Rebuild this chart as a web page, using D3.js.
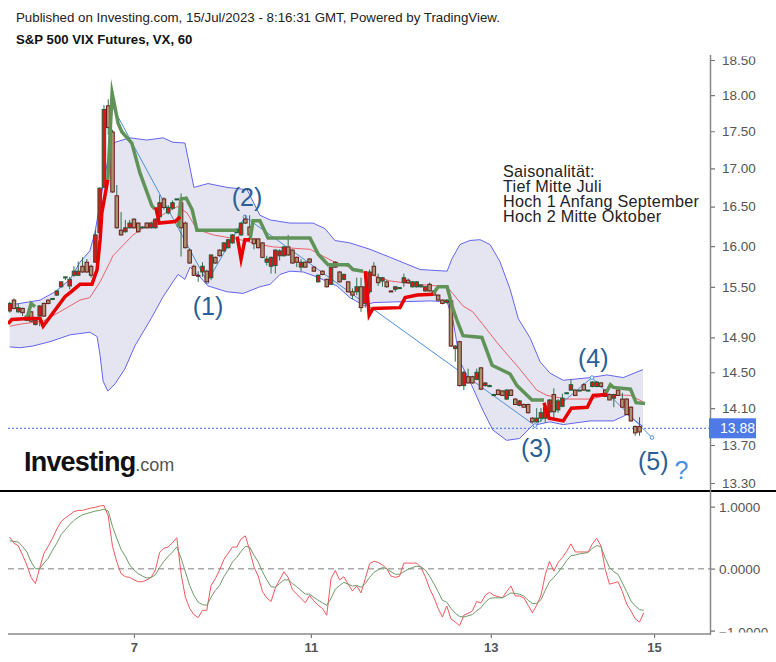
<!DOCTYPE html>
<html>
<head>
<meta charset="utf-8">
<script src="https://cdn.jsdelivr.net/npm/d3@7"></script>
<style>
  html, body { margin: 0; padding: 0; background: #fff; }
  svg { display: block; font-family: "Liberation Sans", Arial, sans-serif; }
</style>
</head>
<body>
<svg id="chart" width="776" height="662"></svg>
<script>
// candles, one entry per 60 min bar
const opens = [15.21,15.34,15.20,15.24,15.10,15.20,15.05,15.15,15.30,15.34,15.35,15.40,15.50,15.61,15.51,15.64,15.64,15.75,15.80,15.75,
  15.80,16.17,16.75,17.85,17.49,16.64,16.20,16.18,16.23,16.34,16.29,16.24,16.29,16.23,16.23,16.37,16.60,16.42,16.48,16.60,
  16.55,16.29,15.95,15.75,15.64,15.68,15.69,15.61,15.86,15.95,15.94,15.98,16.04,16.17,16.14,16.34,16.24,16.09,16.09,16.04,
  15.80,15.75,15.76,15.88,15.88,15.99,15.95,15.86,15.74,15.80,15.84,15.74,15.56,15.69,15.59,15.53,15.80,15.68,15.59,15.56,
  15.44,15.44,15.50,15.30,15.44,15.75,15.61,15.57,15.56,15.45,15.47,15.48,15.55,15.58,15.50,15.50,15.50,15.45,15.53,15.40,
  15.40,15.34,15.31,15.33,14.77,14.85,14.35,14.45,14.45,14.42,14.55,14.35,14.35,14.25,14.30,14.29,14.20,14.30,14.20,14.13,
  14.14,14.14,13.99,13.95,13.99,13.99,14.06,14.25,14.08,14.12,14.27,14.30,14.30,14.30,14.36,14.30,14.34,14.34,14.38,14.30,
  14.25,14.21,14.30,14.20,14.20,14.11,13.90,13.90];
const highs = [15.32,15.36,15.30,15.25,15.16,15.21,15.11,15.28,15.31,15.35,15.36,15.46,15.57,15.62,15.62,15.75,15.81,15.86,15.84,15.77,
  16.20,16.75,17.86,17.94,17.52,16.78,16.43,16.33,16.33,16.35,16.30,16.25,16.30,16.30,16.35,16.65,16.62,16.52,16.58,16.60,
  16.67,16.31,15.97,15.77,15.69,15.80,15.71,15.89,15.87,15.96,16.05,16.09,16.15,16.22,16.30,16.39,16.39,16.10,16.10,16.05,
  15.88,15.87,15.96,15.96,16.00,16.14,15.96,15.87,15.84,15.81,15.85,15.75,15.65,15.70,15.60,15.75,15.81,15.69,15.66,15.57,
  15.48,15.61,15.61,15.65,15.71,15.80,15.66,15.62,15.58,15.45,15.51,15.49,15.66,15.60,15.57,15.57,15.53,15.51,15.55,15.46,
  15.41,15.35,15.35,15.34,14.81,14.86,14.52,14.54,14.46,14.54,14.56,14.39,14.36,14.26,14.31,14.30,14.31,14.31,14.21,14.19,
  14.15,14.15,14.00,14.10,14.10,14.12,14.20,14.32,14.20,14.26,14.27,14.42,14.31,14.30,14.38,14.30,14.40,14.40,14.39,14.31,
  14.26,14.26,14.31,14.27,14.21,14.12,13.91,14.00];
const lows = [15.19,15.23,15.19,15.15,15.09,15.08,15.04,15.03,15.14,15.29,15.34,15.39,15.49,15.58,15.47,15.62,15.63,15.67,15.67,15.61,
  15.79,16.14,16.74,17.45,16.68,16.22,16.13,16.17,16.22,16.22,16.17,16.24,16.22,16.22,16.22,16.34,16.46,16.40,16.46,16.60,
  15.87,15.97,15.78,15.63,15.56,15.62,15.55,15.58,15.78,15.87,15.93,15.97,16.03,16.16,16.13,16.28,16.13,15.96,15.97,15.85,
  15.76,15.66,15.66,15.82,15.87,15.88,15.78,15.74,15.69,15.73,15.79,15.68,15.55,15.64,15.49,15.52,15.73,15.55,15.58,15.43,
  15.35,15.40,15.20,15.25,15.41,15.63,15.51,15.50,15.49,15.44,15.44,15.48,15.50,15.54,15.49,15.49,15.49,15.44,15.44,15.39,
  15.33,15.29,15.30,14.79,14.62,14.34,14.30,14.37,14.37,14.41,14.30,14.34,14.35,14.25,14.25,14.24,14.19,14.24,14.14,14.12,
  14.11,14.04,13.94,13.94,13.95,13.94,14.01,13.99,14.05,14.11,14.27,14.29,14.24,14.30,14.29,14.30,14.33,14.33,14.33,14.23,
  14.19,14.11,14.24,14.11,14.03,13.95,13.80,13.80];
const closes = [15.30,15.24,15.25,15.19,15.15,15.09,15.10,15.27,15.15,15.30,15.36,15.45,15.56,15.62,15.59,15.69,15.69,15.68,15.68,15.64,
  16.14,16.74,17.80,17.55,16.69,16.23,16.14,16.23,16.29,16.23,16.18,16.24,16.23,16.29,16.34,16.55,16.49,16.49,16.55,16.60,
  16.23,15.98,15.79,15.64,15.63,15.75,15.56,15.89,15.79,15.88,16.04,16.08,16.14,16.21,16.29,16.29,16.14,16.03,15.98,15.86,
  15.84,15.86,15.95,15.94,15.99,15.89,15.79,15.80,15.80,15.74,15.80,15.69,15.64,15.65,15.50,15.74,15.74,15.56,15.65,15.44,
  15.40,15.50,15.25,15.50,15.68,15.64,15.55,15.61,15.50,15.44,15.50,15.49,15.61,15.55,15.56,15.56,15.52,15.50,15.45,15.45,
  15.34,15.30,15.34,14.80,14.80,14.35,14.50,14.38,14.38,14.50,14.31,14.38,14.35,14.25,14.25,14.24,14.30,14.24,14.14,14.18,
  14.11,14.05,13.95,13.99,14.05,14.11,14.19,14.06,14.18,14.21,14.27,14.36,14.24,14.30,14.30,14.30,14.39,14.39,14.34,14.23,
  14.19,14.25,14.24,14.11,14.03,13.96,13.83,13.84];

// bollinger bands
const upperBars = [0,7.1,10.6,14.1,16.4,18.7,19.9,21.5,22.9,24.6,28.1,32,35.8,38.1,40.9,43,46.3,50.7,55.4,58.4,60.8,65.4,70.8,73.6,75.9,79.4,84.1,88.8,95.8,102.1,103.2,105.1,107.4,109.8,112.1,114.4,116.8,118.7,121.5,123.8,126.1,129.2,135.5,139.4,143.2,147.8];
const upperVals = [15.28,15.34,15.44,15.59,15.80,15.94,16.17,16.68,17.11,17.35,17.41,17.38,17.41,17.35,17.34,16.75,16.80,16.75,16.72,16.39,16.33,16.29,16.29,16.22,16.07,16.04,15.96,15.86,15.71,15.69,15.84,16.02,16.07,16.08,16.02,15.81,15.47,15.12,14.89,14.62,14.49,14.41,14.44,14.47,14.44,14.53];
const lowerBars = [0,2.4,5.4,9.4,14.1,18.7,20.4,21.1,21.8,22.9,24.6,26.9,29.2,33,35.8,38.1,39.3,40.9,42.1,44.4,46.3,50.7,54.5,58.4,60.8,63.1,65.4,68.5,71.7,76.4,79.4,82.9,84.8,91.1,98.1,102.1,103.5,105.1,107.4,110.5,112.8,116,119,122,126.1,129.2,135.5,140.9,144.1,147.8];
const lowerVals = [14.79,14.78,14.80,14.85,14.93,14.96,14.91,14.69,14.40,14.29,14.37,14.54,14.80,15.12,15.38,15.56,15.65,15.59,15.74,15.62,15.51,15.44,15.42,15.50,15.53,15.65,15.69,15.68,15.62,15.51,15.37,15.27,15.31,15.32,15.33,15.32,15.09,14.62,14.40,14.07,13.86,13.75,13.77,13.91,13.95,13.92,13.96,13.96,14.03,13.90];
const basisBars = [0,3.1,7.8,11.7,16.4,18.7,21.1,23.4,24.1,28.8,32.7,36.7,39.1,41.4,43.7,47.5,53.8,58.4,61.5,70.1,75.5,82.5,88.8,95.1,102.1,105.8,108.1,114.4,119,123,125.4,130,135.5,140.2,144.9,147.8];
const basisVals = [15.03,15.06,15.09,15.20,15.34,15.37,15.56,15.80,15.88,16.14,16.29,16.43,16.50,16.42,16.21,16.14,16.08,16.02,15.99,15.96,15.81,15.68,15.57,15.53,15.50,15.27,15.20,14.80,14.54,14.30,14.24,14.20,14.20,14.25,14.24,14.17];

// thick red and green lines, null = gap
const redBars = [-0.4,0.5,4.3,7.1,7.8,9.4,12.9,14.1,16.4,19.2,20.4,21.1,21.5,22.9,null,34.1,34.9,38.6,39.8,null,53.1,54,54.9,56.1,null,83,83.9,84.8,91.1,92.3,95.1,98.8,null,124.7,125.9,129.2,131.1,134.8,136.2,139.4];
const redVals = [15.06,15.11,15.12,15.12,15.03,15.14,15.38,15.43,15.53,15.53,15.71,16.08,16.42,16.85,null,16.49,16.29,16.31,16.37,null,16.12,15.84,16.08,16.08,null,15.69,15.16,15.24,15.25,15.37,15.40,15.41,null,14.16,13.99,13.96,14.10,14.11,14.24,14.25];
const greenBars = [4,5,5.9,null,22.9,23.9,25.3,26.2,28.5,30.4,33.2,33.9,null,39.3,40,41.2,42.6,43.7,53.1,null,56.1,56.8,58.4,60.3,70.1,72,74.3,79,80.1,82.5,null,98.8,100,102.1,103.3,104.4,105.8,110.2,112.6,116.8,118.4,121.9,124.7,null,139,140.2,140.9,144.9,146.2,148.3];
const greenVals = [15.12,15.30,15.26,null,16.85,18.03,17.61,17.49,17.34,16.94,16.51,16.47,null,16.24,16.60,16.61,16.46,16.20,16.20,null,16.08,16.32,16.32,16.10,16.10,15.90,15.77,15.77,15.71,15.69,null,15.41,15.50,15.50,15.26,15.10,14.92,14.90,14.58,14.48,14.35,14.19,14.19,null,14.25,14.36,14.33,14.31,14.16,14.15];

// hand drawn wave line
const waveBars = [23.9,46.1,54.9,122.6,135.9,149.9];
const waveVals = [17.85,15.56,16.37,13.91,14.44,13.78];

// oscillator panel
const oscRed = [.51,.41,.37,.22,.06,-.14,-.24,.01,.25,.36,.49,.64,.76,.82,.87,.92,.94,.94,.96,.98,.99,1.01,1.02,.85,.36,.11,-.08,-.13,-.14,-.18,-.21,-.21,-.18,-.14,-.02,.26,.33,.35,.42,.50,
  -.08,-.46,-.64,-.74,-.79,-.67,-.67,-.27,-.16,-.02,.15,.25,.35,.35,.48,.53,.30,.03,-.12,-.37,-.47,-.53,-.31,-.18,-.05,-.14,-.34,-.41,-.48,-.55,-.43,-.52,-.59,-.64,-.75,-.16,-.03,-.18,-.13,-.25,
  -.36,-.28,-.39,-.16,.08,.12,.10,.06,0,-.12,-.14,-.12,.09,.09,.09,.09,.02,-.13,-.32,-.46,-.64,-.78,-.60,-.81,-.86,-.92,-.75,-.72,-.68,-.53,-.55,-.43,-.38,-.43,-.45,-.47,-.37,-.28,-.44,-.44,
  -.47,-.59,-.71,-.59,-.43,-.10,.12,-.04,.10,.18,.28,.40,.27,.27,.27,.27,.40,.49,.37,-.01,-.25,-.23,-.21,-.37,-.57,-.68,-.81,-.86,-.71];
const oscGreen = [.45,.44,.43,.36,.27,.11,0,0,.09,.17,.30,.41,.55,.63,.71,.78,.83,.87,.89,.91,.93,.94,.96,.93,.68,.49,.31,.20,.06,-.02,-.08,-.12,-.15,-.14,-.10,.02,.12,.20,.27,.35,
  .17,-.05,-.27,-.43,-.54,-.58,-.59,-.46,-.35,-.27,-.13,-.02,.11,.18,.28,.36,.35,.22,.11,-.05,-.18,-.29,-.30,-.24,-.18,-.18,-.24,-.29,-.35,-.41,-.41,-.46,-.51,-.55,-.59,-.48,-.33,-.27,-.22,-.25,
  -.28,-.27,-.30,-.24,-.14,-.06,-.02,.02,0,-.05,-.09,-.09,-.05,-.01,.02,.04,.03,-.02,-.12,-.24,-.37,-.51,-.54,-.64,-.72,-.77,-.78,-.76,-.74,-.68,-.63,-.54,-.48,-.47,-.47,-.47,-.43,-.39,-.40,-.41,
  -.44,-.51,-.56,-.56,-.50,-.35,-.21,-.14,-.06,.03,.13,.21,.22,.24,.25,.26,.33,.37,.36,.17,.02,-.05,-.09,-.23,-.37,-.52,-.60,-.66,-.67];

// axes
const priceTicks = [18.5,18,17.5,17,16.5,16,15.5,14.9,14.5,14.1,13.7,13.3];
const oscTicks = [1,0,-1];
const dayTickBars = [29,70.3,112.3,150.4];
const dayTickLabels = ["7","11","13","15"];
const lastPrice = 13.88;

const waveLabels = [
  { text: "(1)", bar: 46.3, price: 15.16 },
  { text: "(2)", bar: 55.4, price: 16.51 },
  { text: "(3)", bar: 122.9, price: 13.57 },
  { text: "(4)", bar: 136.2, price: 14.56 },
  { text: "(5)", bar: 150.2, price: 13.44 }
];
const noteLines = ["Saisonalität:", "Tief Mitte Juli", "Hoch 1 Anfang September", "Hoch 2 Mitte Oktober"];

const svg = d3.select("#chart");
const plotLeft = 8, plotRight = 710;

const x = d3.scaleLinear([0, 147], [9.7, 639.5]);
const y = d3.scaleLog([18.5, 13.3], [60, 483]);
const yOsc = d3.scaleLinear([1, -1], [506.7, 630.7]);

const defs = svg.append("defs");
defs.append("clipPath").attr("id", "mainClip").append("rect")
  .attr("x", plotLeft).attr("y", 55).attr("width", plotRight - plotLeft).attr("height", 435);
defs.append("clipPath").attr("id", "priceAxisClip").append("rect")
  .attr("x", 700).attr("y", 56.5).attr("width", 76).attr("height", 434);
defs.append("clipPath").attr("id", "oscAxisClip").append("rect")
  .attr("x", 700).attr("y", 492).attr("width", 76).attr("height", 140.5);

// header
svg.append("text").attr("x", 16).attr("y", 22).attr("font-size", 13.3).attr("fill", "#222")
  .text("Published on Investing.com, 15/Jul/2023 - 8:16:31 GMT, Powered by TradingView.");
svg.append("text").attr("x", 16).attr("y", 44).attr("font-size", 13.2).attr("font-weight", "bold").attr("fill", "#111")
  .text("S&P 500 VIX Futures, VX, 60");

const main = svg.append("g").attr("clip-path", "url(#mainClip)");

const toPoints = (bars, vals) => bars.map((b, i) => [b, vals[i]]);
const priceLine = d3.line().defined(d => d[0] !== null).x(d => x(d[0])).y(d => y(d[1]));

// band fill, upper edge then lower edge backwards
const upperPts = toPoints(upperBars, upperVals);
const lowerPts = toPoints(lowerBars, lowerVals);
main.append("path")
  .attr("d", priceLine(upperPts.concat(lowerPts.slice().reverse())) + "Z")
  .attr("fill", "#e4e5f1");
main.append("path").attr("d", priceLine(upperPts)).attr("fill", "none").attr("stroke", "#6464f0").attr("stroke-width", 1);
main.append("path").attr("d", priceLine(lowerPts)).attr("fill", "none").attr("stroke", "#6464f0").attr("stroke-width", 1);
main.append("path").attr("d", priceLine(toPoints(basisBars, basisVals))).attr("fill", "none").attr("stroke", "#ee6068").attr("stroke-width", 1);

// last price hairline
main.append("line")
  .attr("x1", plotLeft).attr("x2", plotRight).attr("y1", y(lastPrice)).attr("y2", y(lastPrice))
  .attr("stroke", "#3f6fe0").attr("stroke-dasharray", "2 2");

// wave line
const wavePts = toPoints(waveBars, waveVals);
main.append("path").attr("d", priceLine(wavePts)).attr("fill", "none").attr("stroke", "#4a8fd6").attr("stroke-width", 1);
main.selectAll("circle.wave").data(wavePts).enter().append("circle")
  .attr("class", "wave")
  .attr("cx", d => x(d[0])).attr("cy", d => y(d[1])).attr("r", 1.8)
  .attr("fill", "#fff").attr("stroke", "#4a8fd6");

// candles
const candles = main.selectAll("g.candle").data(opens.map((o, i) => i)).enter().append("g").attr("class", "candle");
candles.append("line")
  .attr("x1", i => x(i)).attr("x2", i => x(i))
  .attr("y1", i => y(highs[i])).attr("y2", i => y(lows[i]))
  .attr("stroke", "#2f6f4a").attr("stroke-width", 1);
candles.append("rect")
  .attr("x", i => x(i) - 1.75).attr("width", 3.5)
  .attr("y", i => y(Math.max(opens[i], closes[i])))
  .attr("height", i => Math.max(1, Math.abs(y(opens[i]) - y(closes[i]))))
  .attr("fill", i => closes[i] >= opens[i] ? "#e01515" : "#a8956f")
  .attr("stroke", i => closes[i] >= opens[i] ? "#1f5f3c" : "#6b1c1c")
  .attr("stroke-width", 1);

// thick lines over the candles
main.append("path").attr("d", priceLine(toPoints(greenBars, greenVals))).attr("fill", "none")
  .attr("stroke", "#5f9357").attr("stroke-width", 3.5).attr("stroke-linejoin", "miter").attr("stroke-miterlimit", 30);
main.append("path").attr("d", priceLine(toPoints(redBars, redVals))).attr("fill", "none")
  .attr("stroke", "#e80000").attr("stroke-width", 3.5).attr("stroke-linejoin", "miter").attr("stroke-miterlimit", 30);

// wave labels
svg.selectAll("text.waveLabel").data(waveLabels).enter().append("text")
  .attr("class", "waveLabel")
  .attr("x", d => x(d.bar)).attr("y", d => y(d.price))
  .attr("text-anchor", "middle").attr("font-size", 25).attr("fill", "#2a6095")
  .text(d => d.text);
svg.append("text").attr("x", x(156.8)).attr("y", y(13.34))
  .attr("text-anchor", "middle").attr("font-size", 25).attr("fill", "#4a90e2").text("?");

// note
svg.selectAll("text.note").data(noteLines).enter().append("text")
  .attr("class", "note")
  .attr("x", 503).attr("y", (d, i) => 177 + i * 15)
  .attr("font-size", 16.2).attr("letter-spacing", 0.27).attr("fill", "#222")
  .text(d => d);

// logo
const logo = svg.append("text").attr("x", 24).attr("y", 471);
logo.append("tspan").attr("font-size", 27).attr("font-weight", "bold").attr("letter-spacing", -0.8).attr("fill", "#111").text("Investing");
logo.append("tspan").attr("font-size", 18).attr("fill", "#555").text(".com");

// separator between panels
svg.append("line").attr("x1", 0).attr("x2", 776).attr("y1", 491).attr("y2", 491).attr("stroke", "#000").attr("stroke-width", 2);

// oscillator
const oscLine = d3.line().x((d, i) => x(i)).y(d => yOsc(d));
svg.append("line").attr("x1", plotLeft).attr("x2", plotRight).attr("y1", yOsc(0)).attr("y2", yOsc(0))
  .attr("stroke", "#aaa").attr("stroke-width", 1.5).attr("stroke-dasharray", "6 4");
svg.append("path").attr("d", oscLine(oscRed)).attr("fill", "none").attr("stroke", "#f4575e").attr("stroke-width", 1);
svg.append("path").attr("d", oscLine(oscGreen)).attr("fill", "none").attr("stroke", "#6f9a68").attr("stroke-width", 1);

// axes
function styleAxis(g) {
  g.select(".domain").remove();
  g.selectAll(".tick line").attr("stroke", "#777").attr("stroke-width", 1.2);
  g.selectAll(".tick text").attr("fill", "#555").attr("font-family", "inherit");
}
svg.append("g").attr("clip-path", "url(#priceAxisClip)").append("g")
  .attr("transform", `translate(${plotRight},0)`)
  .call(d3.axisRight(y).tickValues(priceTicks).tickFormat(d3.format(".2f")).tickSize(5).tickPadding(7))
  .attr("font-size", 13.5)
  .call(styleAxis);
const oscAxis = svg.append("g").attr("clip-path", "url(#oscAxisClip)").append("g")
  .attr("transform", `translate(${plotRight},0)`)
  .call(d3.axisRight(yOsc).tickValues(oscTicks).tickFormat(d3.format(".4f")).tickSize(5).tickPadding(4))
  .attr("font-size", 13.5)
  .call(styleAxis);
// bottom label sits a little lower and gets cut by the axis
oscAxis.selectAll(".tick text").filter(d => d === -1).attr("y", 1.5);
svg.append("g")
  .attr("transform", "translate(0,634)")
  .call(d3.axisBottom(x).tickValues(dayTickBars).tickFormat((d, i) => dayTickLabels[i]).tickSize(4).tickPadding(5))
  .attr("font-size", 13).attr("font-weight", "bold")
  .call(styleAxis);

svg.append("line").attr("x1", plotRight + 0.5).attr("x2", plotRight + 0.5).attr("y1", 55).attr("y2", 634.7).attr("stroke", "#888").attr("stroke-width", 1.5);
svg.append("line").attr("x1", plotLeft).attr("x2", plotRight + 1).attr("y1", 634).attr("y2", 634).attr("stroke", "#888").attr("stroke-width", 1.5);

// last price tag
svg.append("rect").attr("x", 709).attr("y", y(lastPrice) - 10).attr("width", 47).attr("height", 20).attr("fill", "#4e79e6");
svg.append("text").attr("x", 720).attr("y", y(lastPrice) + 5).attr("font-size", 14).attr("fill", "#fff").text(d3.format(".2f")(lastPrice));
</script>
</body>
</html>
